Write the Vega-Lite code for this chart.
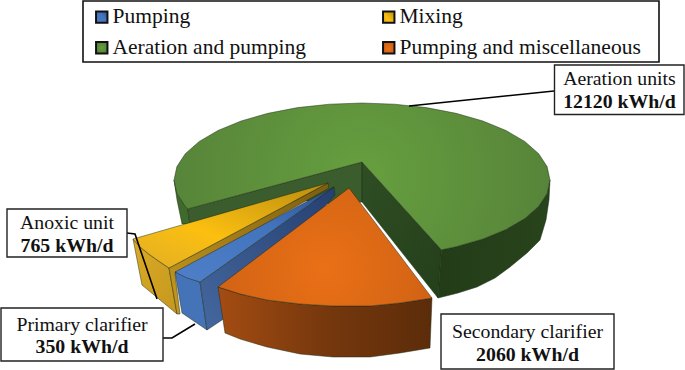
{
"$schema":"https://vega.github.io/schema/vega-lite/v6.json",
"width":685,"height":370,"padding":0,"autosize":{"type":"none"},"background":"white",
"config":{"view":{"stroke":null},"axis":{"disable":true}},
"datasets":{
"sides":[
{"face":"green left wall","x":174,"y":180},{"face":"green left wall","x":176.9,"y":193.4},{"face":"green left wall","x":185.3,"y":206.3},{"face":"green left wall","x":187.7,"y":208.9},{"face":"green left wall","x":190,"y":224},{"face":"green left wall","x":182,"y":224},{"face":"green left wall","x":177,"y":200},{"face":"green left wall","x":174,"y":180},
{"face":"green back wall","x":362,"y":162},{"face":"green back wall","x":187.7,"y":208.9},{"face":"green back wall","x":190,"y":224},{"face":"green back wall","x":300,"y":200},{"face":"green back wall","x":340,"y":205},{"face":"green back wall","x":362,"y":202},{"face":"green back wall","x":362,"y":162},
{"face":"green inner wall","x":362,"y":162},{"face":"green inner wall","x":441.4,"y":249.8},{"face":"green inner wall","x":438,"y":298},{"face":"green inner wall","x":362,"y":202},{"face":"green inner wall","x":362,"y":162},
{"face":"green rim","x":550,"y":180},{"face":"green rim","x":547.1,"y":193.4},{"face":"green rim","x":538.7,"y":206.3},{"face":"green rim","x":524.8,"y":218.5},{"face":"green rim","x":506,"y":229.5},{"face":"green rim","x":482.9,"y":239},{"face":"green rim","x":456,"y":246.7},{"face":"green rim","x":441.4,"y":249.8},{"face":"green rim","x":438,"y":298},{"face":"green rim","x":458,"y":293},{"face":"green rim","x":477,"y":287},{"face":"green rim","x":495,"y":278},{"face":"green rim","x":510,"y":267},{"face":"green rim","x":527,"y":253},{"face":"green rim","x":540,"y":240},{"face":"green rim","x":546,"y":220},{"face":"green rim","x":549,"y":200},{"face":"green rim","x":550,"y":180},
{"face":"yellow rim","x":133,"y":239},{"face":"yellow rim","x":142,"y":285},{"face":"yellow rim","x":177,"y":314},{"face":"yellow rim","x":169,"y":268},{"face":"yellow rim","x":160,"y":262},{"face":"yellow rim","x":150,"y":255},{"face":"yellow rim","x":140,"y":247},{"face":"yellow rim","x":133,"y":239},
{"face":"yellow inner wall","x":169,"y":268},{"face":"yellow inner wall","x":328,"y":183},{"face":"yellow inner wall","x":329,"y":188},{"face":"yellow inner wall","x":175,"y":274},{"face":"yellow inner wall","x":180,"y":314},{"face":"yellow inner wall","x":177,"y":314},{"face":"yellow inner wall","x":169,"y":268},
{"face":"blue front","x":175,"y":272},{"face":"blue front","x":200,"y":282},{"face":"blue front","x":207,"y":330},{"face":"blue front","x":182,"y":313},{"face":"blue front","x":175,"y":272},
{"face":"blue inner wall","x":200,"y":282},{"face":"blue inner wall","x":334,"y":187},{"face":"blue inner wall","x":335,"y":195},{"face":"blue inner wall","x":222,"y":320},{"face":"blue inner wall","x":207,"y":330},{"face":"blue inner wall","x":200,"y":282},
{"face":"orange rim","x":218,"y":287},{"face":"orange rim","x":240,"y":294},{"face":"orange rim","x":267,"y":300},{"face":"orange rim","x":300,"y":304},{"face":"orange rim","x":333,"y":306},{"face":"orange rim","x":370,"y":306},{"face":"orange rim","x":400,"y":303},{"face":"orange rim","x":432,"y":298},{"face":"orange rim","x":430,"y":348},{"face":"orange rim","x":400,"y":353},{"face":"orange rim","x":370,"y":357},{"face":"orange rim","x":333,"y":357},{"face":"orange rim","x":300,"y":354},{"face":"orange rim","x":267,"y":347},{"face":"orange rim","x":240,"y":339},{"face":"orange rim","x":225,"y":333},{"face":"orange rim","x":218,"y":287}
],
"tops":[
{"category":"Aeration and pumping","x":362,"y":162},{"category":"Aeration and pumping","x":187.7,"y":208.9},{"category":"Aeration and pumping","x":185.3,"y":206.3},{"category":"Aeration and pumping","x":176.9,"y":193.4},{"category":"Aeration and pumping","x":174,"y":180},{"category":"Aeration and pumping","x":176.9,"y":166.6},{"category":"Aeration and pumping","x":185.3,"y":153.7},{"category":"Aeration and pumping","x":199.2,"y":141.5},{"category":"Aeration and pumping","x":218,"y":130.5},{"category":"Aeration and pumping","x":241.1,"y":121},{"category":"Aeration and pumping","x":268,"y":113.3},{"category":"Aeration and pumping","x":297.7,"y":107.6},{"category":"Aeration and pumping","x":329.4,"y":104.2},{"category":"Aeration and pumping","x":362,"y":103},{"category":"Aeration and pumping","x":394.6,"y":104.2},{"category":"Aeration and pumping","x":426.3,"y":107.6},{"category":"Aeration and pumping","x":456,"y":113.3},{"category":"Aeration and pumping","x":482.9,"y":121},{"category":"Aeration and pumping","x":506,"y":130.5},{"category":"Aeration and pumping","x":524.8,"y":141.5},{"category":"Aeration and pumping","x":538.7,"y":153.7},{"category":"Aeration and pumping","x":547.1,"y":166.6},{"category":"Aeration and pumping","x":550,"y":180},{"category":"Aeration and pumping","x":547.1,"y":193.4},{"category":"Aeration and pumping","x":538.7,"y":206.3},{"category":"Aeration and pumping","x":524.8,"y":218.5},{"category":"Aeration and pumping","x":506,"y":229.5},{"category":"Aeration and pumping","x":482.9,"y":239},{"category":"Aeration and pumping","x":456,"y":246.7},{"category":"Aeration and pumping","x":441.4,"y":249.8},{"category":"Aeration and pumping","x":362,"y":162},
{"category":"Mixing","x":328,"y":183},{"category":"Mixing","x":133,"y":239},{"category":"Mixing","x":140,"y":247},{"category":"Mixing","x":150,"y":255},{"category":"Mixing","x":160,"y":262},{"category":"Mixing","x":169,"y":268},{"category":"Mixing","x":328,"y":183},
{"category":"Pumping","x":334,"y":187},{"category":"Pumping","x":175,"y":272},{"category":"Pumping","x":187,"y":278},{"category":"Pumping","x":200,"y":282},{"category":"Pumping","x":334,"y":187},
{"category":"Pumping and miscellaneous","x":349,"y":188},{"category":"Pumping and miscellaneous","x":218,"y":287},{"category":"Pumping and miscellaneous","x":240,"y":294},{"category":"Pumping and miscellaneous","x":267,"y":300},{"category":"Pumping and miscellaneous","x":300,"y":304},{"category":"Pumping and miscellaneous","x":333,"y":306},{"category":"Pumping and miscellaneous","x":370,"y":306},{"category":"Pumping and miscellaneous","x":400,"y":303},{"category":"Pumping and miscellaneous","x":432,"y":298},{"category":"Pumping and miscellaneous","x":349,"y":188}
],
"leaders":[
{"unit":"Aeration units","x":554,"y":91},{"unit":"Aeration units","x":409,"y":106},
{"unit":"Anoxic unit","x":127,"y":233},{"unit":"Anoxic unit","x":135,"y":234},{"unit":"Anoxic unit","x":157,"y":299},
{"unit":"Primary clarifier","x":163,"y":338},{"unit":"Primary clarifier","x":172,"y":338},{"unit":"Primary clarifier","x":195,"y":324}
],
"boxes":[
{"unit":"legend","x":83,"x2":659,"y":1,"y2":62},
{"unit":"Aeration units","x":554.5,"x2":684,"y":65,"y2":114.5},
{"unit":"Anoxic unit","x":7,"x2":127,"y":209,"y2":257},
{"unit":"Primary clarifier","x":1,"x2":163,"y":308,"y2":361},
{"unit":"Secondary clarifier","x":441,"x2":614,"y":314,"y2":369}
],
"labels":[
{"unit":"Aeration units","energy":"12120 kWh/d","x":619.5,"y":85,"y2":108},
{"unit":"Anoxic unit","energy":"765 kWh/d","x":67,"y":229,"y2":252},
{"unit":"Primary clarifier","energy":"350 kWh/d","x":82,"y":331,"y2":353},
{"unit":"Secondary clarifier","energy":"2060 kWh/d","x":527.5,"y":338,"y2":361}
]
},
"layer":[
{"data":{"name":"boxes"},"transform":[{"filter":"datum.unit==='legend'"}],
 "mark":{"type":"rect","fill":"white","stroke":"#111","strokeWidth":1.6},
 "encoding":{"x":{"field":"x","type":"quantitative","scale":{"domain":[0,685],"nice":false,"zero":false},"axis":null},"x2":{"field":"x2"},"y":{"field":"y","type":"quantitative","scale":{"domain":[370,0],"nice":false,"zero":false},"axis":null},"y2":{"field":"y2"}}},
{"data":{"name":"sides"},"transform":[{"window":[{"op":"row_number","as":"seq"}]}],
 "mark":{"type":"line","stroke":"#1c2a12","strokeWidth":0.6,"strokeOpacity":0.8,"strokeJoin":"round"},
 "encoding":{"x":{"field":"x","type":"quantitative"},"y":{"field":"y","type":"quantitative"},"order":{"field":"seq"},
  "fill":{"field":"face","type":"nominal","legend":null,"scale":{
   "domain":["green left wall","green back wall","green inner wall","green rim","yellow rim","yellow inner wall","blue front","blue inner wall","orange rim"],
   "range":["#3f6a2b","#3b5c2c",
    {"expr":"{gradient:'linear',x1:0,y1:0,x2:1,y2:1,stops:[{offset:0,color:'#2f4e24'},{offset:1,color:'#243f1b'}]}"},
    {"expr":"{gradient:'linear',x1:0,y1:0,x2:1,y2:0,stops:[{offset:0,color:'#233c18'},{offset:1,color:'#28441c'}]}"},
    {"expr":"{gradient:'linear',x1:0,y1:0,x2:1,y2:1,stops:[{offset:0,color:'#dcaa26'},{offset:1,color:'#c4981e'}]}"},
    {"expr":"{gradient:'linear',x1:0,y1:1,x2:1,y2:0,stops:[{offset:0,color:'#c89a1e'},{offset:1,color:'#7c5c10'}]}"},
    "#4573b8",
    {"expr":"{gradient:'linear',x1:0,y1:1,x2:1,y2:0,stops:[{offset:0,color:'#44689f'},{offset:1,color:'#263f70'}]}"},
    {"expr":"{gradient:'linear',x1:0,y1:0,x2:1,y2:0,stops:[{offset:0,color:'#a44c12'},{offset:0.5,color:'#76380d'},{offset:1,color:'#5c2c0a'}]}"}
   ]}}}},
{"data":{"name":"tops"},"transform":[{"window":[{"op":"row_number","as":"seq"}]}],
 "mark":{"type":"line","stroke":"#1c2a12","strokeWidth":0.6,"strokeOpacity":0.8,"strokeJoin":"round"},
 "encoding":{"x":{"field":"x","type":"quantitative"},"y":{"field":"y","type":"quantitative"},"order":{"field":"seq"},
  "fill":{"field":"category","type":"nominal","title":null,"sort":null,"scale":{
   "domain":["Pumping","Aeration and pumping","Mixing","Pumping and miscellaneous"],
   "range":[
    {"expr":"{gradient:'linear',x1:0,y1:1,x2:1,y2:0,stops:[{offset:0,color:'#4f7fc9'},{offset:0.6,color:'#4273bd'},{offset:1,color:'#2c5090'}]}"},
    {"expr":"{gradient:'radial',x1:0.5,y1:0.5,r1:0,x2:0.5,y2:0.5,r2:0.6,stops:[{offset:0,color:'#669f3f'},{offset:1,color:'#547f38'}]}"},
    {"expr":"{gradient:'linear',x1:0,y1:1,x2:1,y2:0,stops:[{offset:0,color:'#e0ae26'},{offset:0.4,color:'#fcbf10'},{offset:1,color:'#b88c10'}]}"},
    {"expr":"{gradient:'radial',x1:0.5,y1:0.6,r1:0,x2:0.5,y2:0.6,r2:0.7,stops:[{offset:0,color:'#ea7016'},{offset:1,color:'#c85e14'}]}"}
   ]},
   "legend":{"orient":"none","legendX":85,"legendY":0,"columns":2,"padding":6,"symbolType":"square","symbolSize":130,"symbolStrokeColor":"#111","symbolStrokeWidth":2,"labelFont":"Liberation Serif","labelFontSize":21.5,"labelColor":"#111","labelOffset":0,"labelLimit":300,"columnPadding":72,"rowPadding":8}}}},
{"data":{"name":"leaders"},"transform":[{"window":[{"op":"row_number","as":"seq"}]}],
 "mark":{"type":"line","stroke":"#000","strokeWidth":1.6},
 "encoding":{"x":{"field":"x","type":"quantitative"},"y":{"field":"y","type":"quantitative"},"order":{"field":"seq"},"detail":{"field":"unit"}}},
{"data":{"name":"boxes"},"transform":[{"filter":"datum.unit!=='legend'"}],
 "mark":{"type":"rect","fill":"white","stroke":"#222","strokeWidth":1.4},
 "encoding":{"x":{"field":"x","type":"quantitative"},"x2":{"field":"x2"},"y":{"field":"y","type":"quantitative"},"y2":{"field":"y2"}}},
{"data":{"name":"labels"},
 "mark":{"type":"text","font":"Liberation Serif","fontSize":19.8,"align":"center","baseline":"alphabetic","color":"#111"},
 "encoding":{"x":{"field":"x","type":"quantitative"},"y":{"field":"y","type":"quantitative"},"text":{"field":"unit"}}},
{"data":{"name":"labels"},
 "mark":{"type":"text","font":"Liberation Serif","fontSize":19.8,"fontWeight":"bold","align":"center","baseline":"alphabetic","color":"#111"},
 "encoding":{"x":{"field":"x","type":"quantitative"},"y":{"field":"y2","type":"quantitative"},"text":{"field":"energy"}}}
],
"resolve":{"scale":{"fill":"independent"},"legend":{"fill":"independent"}}
}
